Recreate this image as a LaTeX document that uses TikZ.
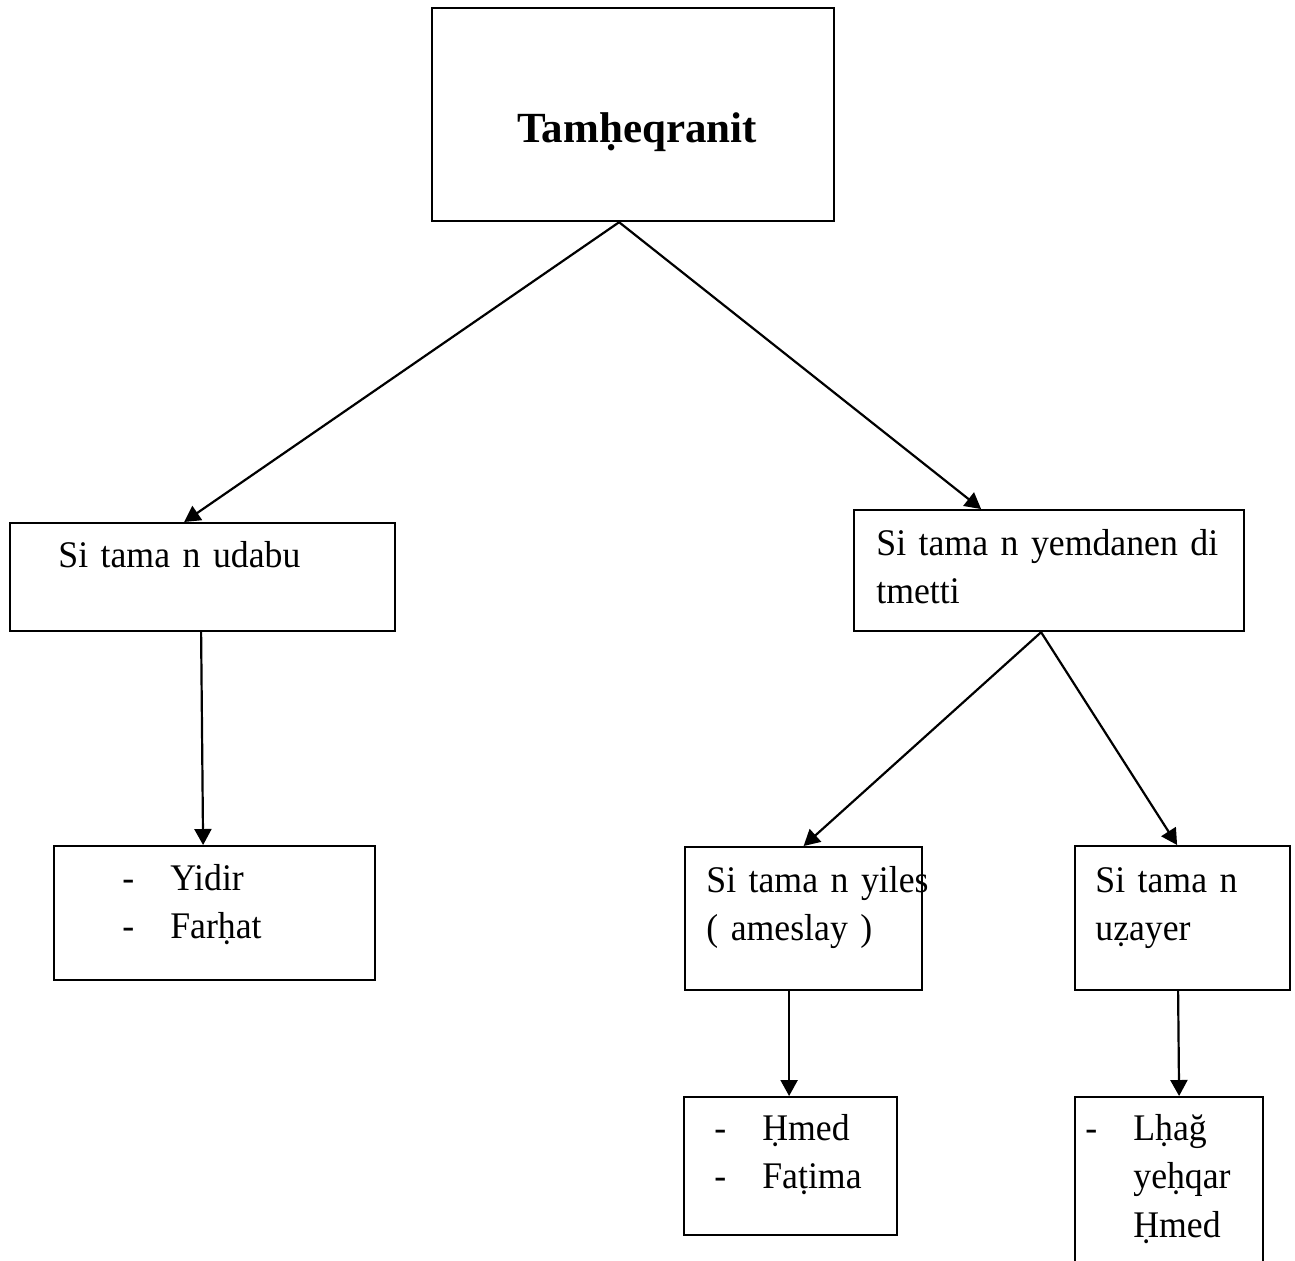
\documentclass[tikz,border=0pt]{standalone}
\usepackage{fontspec}
\setmainfont{Liberation Serif}
\newfontfamily\bodyfam[FakeStretch=0.95]{Liberation Serif}
\usetikzlibrary{arrows.meta}
\newcommand{\bodyfont}{\bodyfam\fontsize{18.8}{24.25}\selectfont\spaceskip=0.19em\relax}
\newcommand{\titlefont}{\fontsize{21.5}{26}\selectfont\bfseries}
\newcommand{\dashitem}[1]{\makebox[24pt][l]{-}#1}
\tikzset{
	box/.style 2 args={draw,line width=1.1pt,anchor=north west,inner sep=0pt,minimum width=#1,minimum height=#2},
	txt/.style={anchor=base west,inner sep=0pt,align=left,text width=200pt,font=\bodyfont},
	arr/.style={line width=1.1pt,-{Triangle[length=8pt,width=8.5pt]}}
}
\begin{document}
\begin{tikzpicture}[x=0.5pt,y=-0.5pt]
	\useasboundingbox (0,0) rectangle (1295,1260);

	\node [box={201pt}{106.5pt}] (top) at (431,7) {};
	\node [box={192.5pt}{54pt}] (udabu) at (9,522) {};
	\node [box={195pt}{60.5pt}] (tmetti) at (853,509) {};
	\node [box={160.5pt}{67pt}] (yidir) at (53,845) {};
	\node [box={118.5pt}{71.5pt}] (yiles) at (684,846) {};
	\node [box={107.5pt}{72pt}] (uzayer) at (1074,845) {};
	\node [box={106.5pt}{69pt}] (hmed) at (683,1096) {};
	\node [box={94pt}{87pt}] (lhag) at (1074,1096) {};

	\node [anchor=base,inner sep=0pt,font=\titlefont] (toptext) at (637,142) {Tamḥeqranit};
	\node [txt] (udabutext) at (58,567) {Si tama n udabu};
	\node [txt] (tmettitext) at (876,555) {Si tama n yemdanen di\\tmetti};
	\node [txt] (yidirtext) at (122,890) {\dashitem{Yidir}\\\dashitem{Farḥat}};
	\node [txt] (yilestext) at (706,892) {Si tama n yiles\\( ameslay )};
	\node [txt] (uzayertext) at (1095,892) {Si tama n\\uẓayer};
	\node [txt] (hmedtext) at (714,1140) {\dashitem{Ḥmed}\\\dashitem{Faṭima}};
	\node [txt] (lhagtext) at (1085,1140) {\dashitem{Lḥağ}\\\hspace*{24pt}yeḥqar\\\hspace*{24pt}Ḥmed};

	\draw [arr] ([xshift=-7pt]top.south) -- ([xshift=-9.25pt]udabu.north);
	\draw [arr] ([xshift=-7pt]top.south) -- ([xshift=-34pt]tmetti.north);
	\draw [arr] ([xshift=-0.75pt]udabu.south) -- ([xshift=-5.75pt]yidir.north);
	\draw [arr] ([xshift=-4pt]tmetti.south) -- (yiles.north);
	\draw [arr] ([xshift=-4pt]tmetti.south) -- ([xshift=-2.75pt]uzayer.north);
	\draw [arr] ([xshift=-7.25pt]yiles.south) -- ([xshift=-0.75pt]hmed.north);
	\draw [arr] ([xshift=-2.25pt]uzayer.south) -- ([xshift=5pt]lhag.north);
\end{tikzpicture}
\end{document}
